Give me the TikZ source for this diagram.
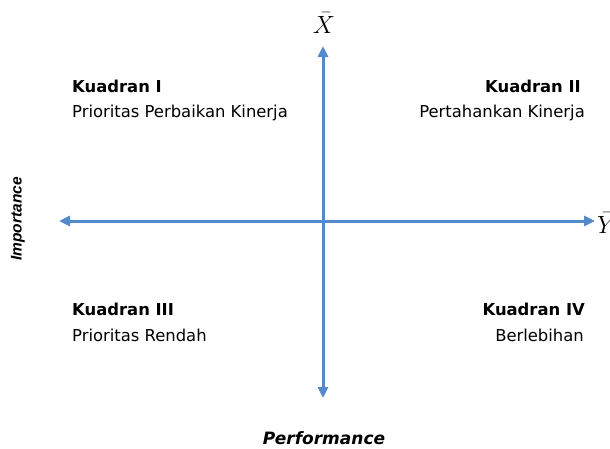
\documentclass[tikz,border=0pt]{standalone}
\usepackage{fontspec}
\setmainfont{DejaVu Sans}
\newfontfamily\axisfont{Liberation Sans}
\usetikzlibrary{arrows.meta}
\definecolor{axisblue}{RGB}{84,137,204}
\tikzset{
  axis/.style={draw=axisblue, line width=3pt,
    {Triangle[length=11pt,width=10pt]}-{Triangle[length=11pt,width=10pt]}},
  qtitle/.style={inner sep=0pt, font=\fontsize{16.4}{19}\selectfont\bfseries},
  qtext/.style={inner sep=0pt, font=\fontsize{16.4}{19}\selectfont},
  axlabel/.style={inner sep=0pt, font=\fontsize{23}{27}\selectfont}
}
\begin{document}
\begin{tikzpicture}[x=1pt,y=-1pt]
  \useasboundingbox (0,0) rectangle (610,448);

  % axes
  \coordinate (top) at (323,46);
  \coordinate (bottom) at (323,398);
  \coordinate (left) at (59,221);
  \coordinate (right) at (595,221);
  \draw[axis] (bottom) -- (top);
  \draw[axis] (left) -- (right);

  % axis symbols
  \node[axlabel, anchor=base] (xbar) at (324,33) {$\bar{X}$};
  \node[axlabel, anchor=base west] (ybar) at (597,233) {$\bar{Y}$};

  % axis names
  \node[inner sep=0pt, rotate=90, font=\axisfont\fontsize{15.5}{18}\selectfont\bfseries\itshape]
    (imp) at (18,219) {Importance};
  \node[inner sep=0pt, font=\fontsize{17}{20}\selectfont\bfseries\itshape]
    (perf) at (324,438) {Performance};

  % quadrant captions
  \node[qtitle, anchor=base west] (q1t) at (72,92) {Kuadran I};
  \node[qtext,  anchor=base west] (q1s) at (72,117) {Prioritas Perbaikan Kinerja};
  \node[qtitle, anchor=base east] (q2t) at (581,92) {Kuadran II};
  \node[qtext,  anchor=base east] (q2s) at (585,117) {Pertahankan Kinerja};
  \node[qtitle, anchor=base west] (q3t) at (72,315) {Kuadran III};
  \node[qtext,  anchor=base west] (q3s) at (72,341) {Prioritas Rendah};
  \node[qtitle, anchor=base east] (q4t) at (585,315) {Kuadran IV};
  \node[qtext,  anchor=base east] (q4s) at (584,341) {Berlebihan};
\end{tikzpicture}
\end{document}
